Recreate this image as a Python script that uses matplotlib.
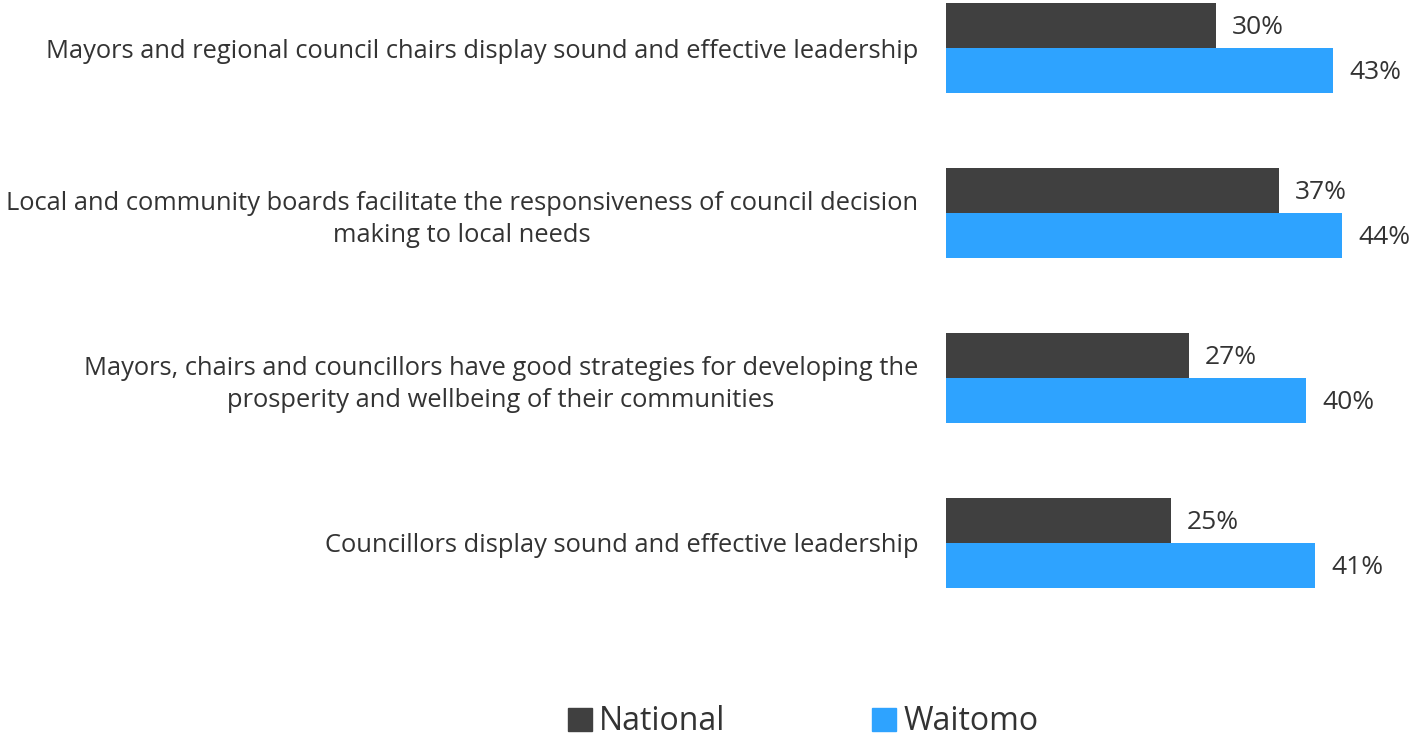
import matplotlib.pyplot as plt
from matplotlib.patches import Patch

plt.rcParams['font.family'] = ['Open Sans', 'DejaVu Sans']

categories = [
    "Mayors and regional council chairs display sound and effective leadership",
    "Local and community boards facilitate the responsiveness of council decision\nmaking to local needs",
    "Mayors, chairs and councillors have good strategies for developing the\nprosperity and wellbeing of their communities",
    "Councillors display sound and effective leadership",
]
national = [30, 37, 27, 25]
waitomo = [43, 44, 40, 41]
series_names = ["National", "Waitomo"]

dark = "#404040"
blue = "#2EA3FF"
text_color = "#333333"

W, H = 1414, 740
fig = plt.figure(figsize=(W / 100, H / 100), dpi=100)
left_px, right_px = 946, 1396
ax = fig.add_axes([left_px / W, 0, (right_px - left_px) / W, 1])

# group centres 165 px apart, first at 48 px from the top
step = 165.0
first = 48.0
ax.set_ylim((H - first) / step, -first / step)
ax.set_xlim(0, 50)

h = 45 / step
ys = list(range(len(categories)))
ax.barh([y - h / 2 for y in ys], national, height=h, color=dark)
ax.barh([y + h / 2 for y in ys], waitomo, height=h, color=blue)

for y, v in zip(ys, national):
    ax.text(v + 1.8, y - h / 2 + 0.01, f"{v}%", va="center", ha="left",
            fontsize=19, color=text_color)
for y, v in zip(ys, waitomo):
    ax.text(v + 1.8, y + h / 2 + 0.01, f"{v}%", va="center", ha="left",
            fontsize=19, color=text_color)

ax.set_yticks(ys)
ax.set_yticklabels(categories, fontsize=18.4, color=text_color,
                   multialignment="center", linespacing=1.38)
ax.tick_params(axis="y", length=0, pad=20)
ax.tick_params(axis="x", bottom=False, labelbottom=False)
for s in ax.spines.values():
    s.set_visible(False)

handles = [Patch(color=dark), Patch(color=blue)]
fig.legend(handles, series_names, loc="center", bbox_to_anchor=(0.568, 1 - 722 / H),
           ncol=2, frameon=False, fontsize=23, handlelength=0.75, handleheight=0.75,
           handletextpad=0.22, columnspacing=4.6, labelcolor=text_color,
           borderpad=0, borderaxespad=0)

fig.savefig("out.png", dpi=100)
